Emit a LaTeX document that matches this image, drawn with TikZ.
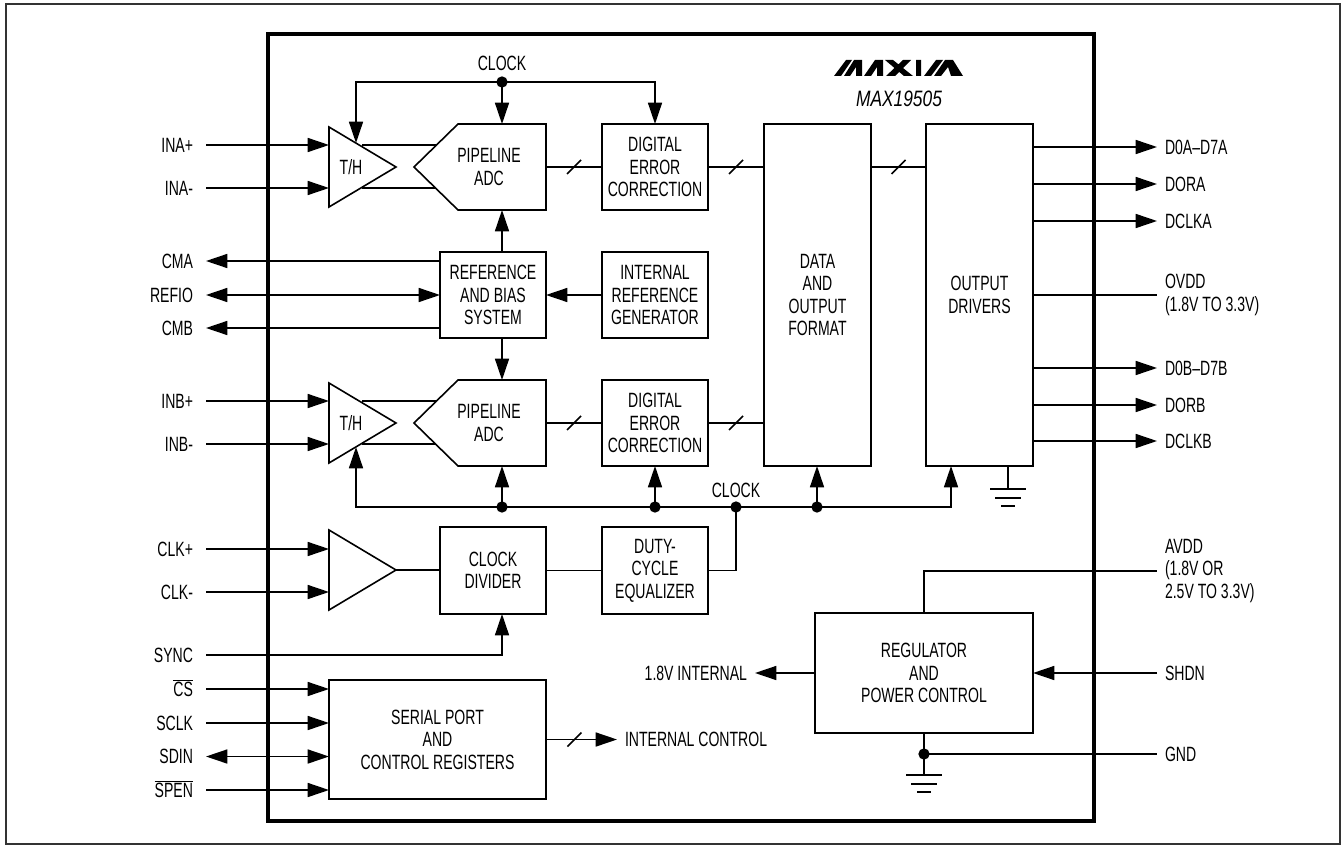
\documentclass[tikz,border=0pt]{standalone}
\usepackage{fontspec}
\setmainfont[FakeStretch=0.68]{Liberation Sans}
\newfontfamily\partfont[FakeStretch=0.78]{Liberation Sans}
\usepackage{tikz}
\usetikzlibrary{positioning,arrows.meta,calc,shapes.geometric}

\begin{document}
\begin{tikzpicture}[
  x=0.75pt, y=-0.75pt,
  txt/.style={font=\fontsize{15.5}{16.9}\selectfont, inner sep=0pt, outer sep=0pt},
  box/.style={txt, rectangle, draw, line width=1.2pt, align=center, minimum width=79.5pt, minimum height=64.5pt},
  adcbody/.style={txt, rectangle, minimum width=66pt, minimum height=64.5pt},
  amp/.style={txt, isosceles triangle, isosceles triangle stretches, shape border rotate=0, draw, line width=1.2pt, minimum width=60pt, minimum height=50.25pt, anchor=lower side},
  pinl/.style={txt, anchor=east, inner xsep=9.75pt, text height=11pt, text depth=0pt},
  pinr/.style={txt, anchor=west, inner xsep=6pt, text height=11pt, text depth=0pt},
  pinm/.style={txt, anchor=west, inner xsep=6pt, align=left},
  wire/.style={line width=1.2pt},
  arrow/.style={wire, -{Triangle[length=16pt, width=10.5pt]}},
  biarrow/.style={wire, {Triangle[length=16pt, width=10.5pt]}-{Triangle[length=16pt, width=10.5pt]}},
  dot/.style={circle, fill, inner sep=0pt, minimum size=8.5pt},
  busslash/.pic={\draw[wire, -] (-7,7) -- (7,-7);},
  gnd/.pic={\draw[wire] (-18,0) -- (18,0) (-13,9) -- (13,9) (-7,17) -- (7,17);}
]
  \useasboundingbox (0,0) rectangle (1341,845);
  \draw[line width=1.5pt, black!80] (6,4) rectangle (1340,844);
  \draw[line width=3pt] (268,34) rectangle (1094,821);

  % logo and part number
  \fill (834,76) -- (841,76) -- (852,60) -- (846,60) -- cycle
        (844,76) -- (850,76) -- (856,67) -- (856,76) -- (862,76) -- (862,60) -- (854,60) -- cycle
        (864,76) -- (871,76) -- (877,67) -- (877,76) -- (883,76) -- (883,60) -- (875,60) -- cycle
        (885,60) -- (893,60) -- (913,76) -- (904,76) -- cycle
        (903,60) -- (911,60) -- (895,76) -- (886,76) -- cycle
        (916,60) -- (921,60) -- (921,76) -- (916,76) -- cycle
        (924,76) -- (931,76) -- (943,60) -- (936,60) -- cycle
        (934,76) -- (941,76) -- (948,67) -- (951,76) -- (963,76) -- (953,60) -- (945,60) -- cycle;
  \node[txt, font=\fontsize{16.7}{18}\partfont\itshape] (part) at (899,99) {MAX19505};

  % channel A
  \node[box] (decA) at (655,167) {DIGITAL\\ERROR\\CORRECTION};
  \node[box] (ref) at (493,295) {REFERENCE\\AND BIAS\\SYSTEM};
  \node[box] (intref) at (655,295) {INTERNAL\\REFERENCE\\GENERATOR};
  \node[box] (decB) at (655,423) {DIGITAL\\ERROR\\CORRECTION};
  \node[box, minimum width=80.25pt, minimum height=256.5pt] (fmt) at (817.5,295) {DATA\\AND\\OUTPUT\\FORMAT};
  \node[box, minimum width=80.25pt, minimum height=256.5pt] (drv) at (979.5,295) {OUTPUT\\DRIVERS};
  \node[amp] (thA) at (329,167) {T/H};
  \node[amp] (thB) at (329,423) {T/H};
  \node[adcbody] (adcA) at (502,167) {};
  \node[adcbody] (adcB) at (502,423) {};
  \node[txt, align=center] (adcAtxt) at (489,167) {PIPELINE\\ADC};
  \node[txt, align=center] (adcBtxt) at (489,423) {PIPELINE\\ADC};
  \draw[wire] (adcA.north west) -- (adcA.north east) -- (adcA.south east) -- (adcA.south west) -- (414,167) -- cycle;
  \draw[wire] (adcB.north west) -- (adcB.north east) -- (adcB.south east) -- (adcB.south west) -- (414,423) -- cycle;

  % clock, serial port, regulator
  \node[amp] (clkamp) at (329,570) {};
  \node[box, minimum height=65.25pt] (clkdiv) at (493,570.5) {CLOCK\\DIVIDER};
  \node[box, minimum height=65.25pt] (duty) at (655,570.5) {DUTY-\\CYCLE\\EQUALIZER};
  \node[box, minimum width=162.75pt, minimum height=89.25pt] (serial) at (437.5,739.5) {SERIAL PORT\\AND\\CONTROL REGISTERS};
  \node[box, minimum width=163.5pt, minimum height=90pt] (reg) at (924,673) {REGULATOR\\AND\\POWER CONTROL};

  % left pins
  \node[pinl] (inap) at (206,145) {INA+};
  \node[pinl] (inam) at (206,188) {INA-};
  \node[pinl] (cma) at (206,261) {CMA};
  \node[pinl] (refio) at (206,295) {REFIO};
  \node[pinl] (cmb) at (206,328) {CMB};
  \node[pinl] (inbp) at (206,401) {INB+};
  \node[pinl] (inbm) at (206,444) {INB-};
  \node[pinl] (clkp) at (206,549) {CLK+};
  \node[pinl] (clkm) at (206,592) {CLK-};
  \node[pinl] (sync) at (206,655) {SYNC};
  \node[pinl] (cs) at (206,689) {$\overline{\mbox{CS}}$};
  \node[pinl] (sclk) at (206,723) {SCLK};
  \node[pinl] (sdin) at (206,756.5) {SDIN};
  \node[pinl] (spen) at (206,790) {$\overline{\mbox{SPEN}}$};

  % right pins
  \node[pinr] (d0a) at (1157,147) {D0A–D7A};
  \node[pinr] (dora) at (1157,184) {DORA};
  \node[pinr] (dclka) at (1157,221) {DCLKA};
  \node[pinm] (ovdd) at (1157,295) {OVDD\\(1.8V TO 3.3V)};
  \node[pinr] (d0b) at (1157,368) {D0B–D7B};
  \node[pinr] (dorb) at (1157,405) {DORB};
  \node[pinr] (dclkb) at (1157,441) {DCLKB};
  \node[pinm] (avdd) at (1157,571) {AVDD\\(1.8V OR\\2.5V TO 3.3V)};
  \node[pinr] (shdn) at (1157,673) {SHDN};
  \node[pinr] (gnd) at (1157,754) {GND};
  \node[pinr, anchor=east, inner xsep=6pt] (vint) at (755,673) {1.8V INTERNAL};
  \node[pinr] (intctl) at (617,739.5) {INTERNAL CONTROL};

  % clock nets
  \node[txt] (clktop) at (502,63) {CLOCK};
  \node[txt] (clkbot) at (736,490) {CLOCK};
  \node[dot] (ca) at (502,82) {};
  \node[dot] (cb1) at (502,507) {};
  \node[dot] (cb2) at (655,507) {};
  \node[dot] (cb3) at (736,507) {};
  \node[dot] (cb4) at (817,507) {};
  \node[dot] (gj) at (924,754) {};
  \coordinate (thAclk) at (356,143);
  \coordinate (thBclk) at (356,447);
  \coordinate (drvclk) at (951,466);

  \draw[arrow] (ca.center) -| (thAclk);
  \draw[arrow] (ca.center) -- (adcA.north);
  \draw[arrow] (ca.center) -| (decA.north);
  \draw[wire] (cb1.center) -- (cb4.center);
  \draw[arrow] (cb1.center) -| (thBclk);
  \draw[arrow] (cb1.center) -- (adcB.south);
  \draw[arrow] (cb2.center) -- (decB.south);
  \draw[arrow] (cb4.center) -- (fmt.south -| cb4);
  \draw[arrow] (cb4.center) -| (drvclk);
  \draw[wire] (duty.east) -| (cb3.center);

  % signal paths
  \draw[arrow] (inap.east) -- (inap.east -| thA.lower side);
  \draw[arrow] (inam.east) -- (inam.east -| thA.lower side);
  \draw[arrow] (inbp.east) -- (inbp.east -| thB.lower side);
  \draw[arrow] (inbm.east) -- (inbm.east -| thB.lower side);
  \draw[arrow] (clkp.east) -- (clkp.east -| clkamp.lower side);
  \draw[arrow] (clkm.east) -- (clkm.east -| clkamp.lower side);
  \draw[wire] (362,145) -- (436,145);
  \draw[wire] (362,188) -- (436,188);
  \draw[wire] (362,401) -- (436,401);
  \draw[wire] (362,444) -- (436,444);
  \draw[wire] (clkamp.apex) -- (clkdiv.west |- clkamp.apex);
  \draw[wire] (clkdiv.east) -- (duty.west);
  \draw[wire] (adcA.east) -- pic {busslash} (decA.west);
  \draw[wire] (adcB.east) -- pic {busslash} (decB.west);
  \draw[wire] (decA.east) -- pic {busslash} (decA.east -| fmt.west);
  \draw[wire] (decB.east) -- pic {busslash} (decB.east -| fmt.west);
  \draw[wire] (decA.east -| fmt.east) -- pic {busslash} (decA.east -| drv.west);

  % reference
  \draw[arrow] (ref.north -| adcA) -- (adcA.south);
  \draw[arrow] (ref.south -| adcB) -- (adcB.north);
  \draw[arrow] (ref.west |- cma) -- (cma.east);
  \draw[biarrow] (refio.east) -- (ref.west);
  \draw[arrow] (ref.west |- cmb) -- (cmb.east);
  \draw[arrow] (intref.west) -- (ref.east);

  % control
  \draw[arrow] (sync.east) -| (adcB.south |- clkdiv.south);
  \draw[arrow] (cs.east) -- (cs.east -| serial.west);
  \draw[arrow] (sclk.east) -- (sclk.east -| serial.west);
  \draw[biarrow] (sdin.east) -- (sdin.east -| serial.west);
  \draw[arrow] (spen.east) -- (spen.east -| serial.west);
  \draw[arrow] (serial.east) -- pic[pos=0.4] {busslash} (intctl.west);

  % outputs
  \draw[arrow] (drv.east |- d0a) -- (d0a.west);
  \draw[arrow] (drv.east |- dora) -- (dora.west);
  \draw[arrow] (drv.east |- dclka) -- (dclka.west);
  \draw[wire] (drv.east) -- (ovdd.west);
  \draw[arrow] (drv.east |- d0b) -- (d0b.west);
  \draw[arrow] (drv.east |- dorb) -- (dorb.west);
  \draw[arrow] (drv.east |- dclkb) -- (dclkb.west);

  % power
  \draw[wire] (reg.north) |- (avdd.west);
  \draw[arrow] (reg.west) -- (vint.east);
  \draw[arrow] (shdn.west) -- (reg.east);
  \coordinate (gndA) at (1008,489);
  \coordinate (gndB) at (924,775);
  \draw[wire] (drv.south -| gndA) -- (gndA);
  \draw[wire] (reg.south) -- (gndB);
  \draw[wire] (gj.center) -- (gnd.west);
  \pic at (gndA) {gnd};
  \pic at (gndB) {gnd};
\end{tikzpicture}
\end{document}
